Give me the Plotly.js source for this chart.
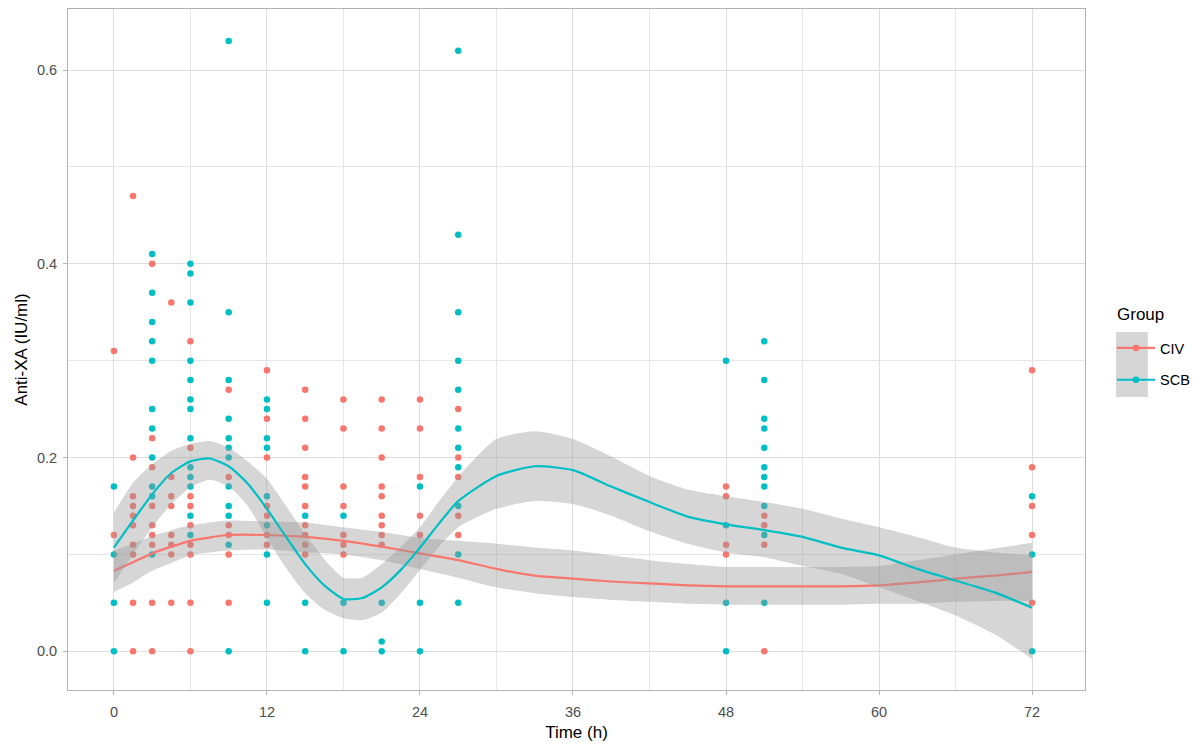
<!DOCTYPE html>
<html><head><meta charset="utf-8">
<script src="https://cdn.plot.ly/plotly-3.0.1.min.js"></script>
<style>html,body{margin:0;padding:0;background:#fff}#chart{width:1203px;height:747px}</style>
</head><body><div id="chart"></div>
<script>
// ---------- data ----------
const groupNames = ['CIV', 'SCB'];
const groupColors = ['#F8766D', '#00BFC4'];

// observed points, CIV
const civTime = [
  0, 0,
  1.5, 1.5, 1.5, 1.5, 1.5, 1.5, 1.5, 1.5, 1.5, 1.5,
  3, 3, 3, 3, 3, 3, 3, 3, 3,
  4.5, 4.5, 4.5, 4.5, 4.5, 4.5, 4.5, 4.5,
  6, 6, 6, 6, 6, 6, 6, 6, 6,
  9, 9, 9, 9, 9, 9,
  12, 12, 12, 12, 12, 12, 12,
  15, 15, 15, 15, 15, 15, 15, 15, 15, 15,
  18, 18, 18, 18, 18, 18, 18,
  21, 21, 21, 21, 21, 21, 21, 21, 21,
  24, 24, 24, 24, 24,
  27, 27, 27, 27, 27,
  48, 48, 48, 48,
  51, 51, 51, 51,
  72, 72, 72, 72, 72
];
const civValue = [
  0.31, 0.12,
  0.47, 0.20, 0.16, 0.15, 0.14, 0.13, 0.11, 0.10, 0.05, 0.00,
  0.40, 0.22, 0.19, 0.15, 0.13, 0.12, 0.11, 0.05, 0.00,
  0.36, 0.18, 0.16, 0.15, 0.12, 0.11, 0.10, 0.05,
  0.32, 0.21, 0.16, 0.15, 0.13, 0.11, 0.10, 0.05, 0.00,
  0.27, 0.18, 0.13, 0.12, 0.10, 0.05,
  0.29, 0.24, 0.20, 0.15, 0.14, 0.12, 0.11,
  0.27, 0.24, 0.21, 0.18, 0.17, 0.15, 0.13, 0.12, 0.11, 0.10,
  0.26, 0.23, 0.17, 0.15, 0.12, 0.11, 0.10,
  0.26, 0.23, 0.20, 0.17, 0.16, 0.14, 0.13, 0.12, 0.11,
  0.26, 0.23, 0.18, 0.14, 0.12,
  0.25, 0.20, 0.18, 0.14, 0.12,
  0.17, 0.16, 0.11, 0.10,
  0.14, 0.13, 0.11, 0.00,
  0.29, 0.19, 0.15, 0.12, 0.05
];

// observed points, SCB
const scbTime = [
  0, 0, 0, 0,
  3, 3, 3, 3, 3, 3, 3, 3, 3, 3, 3,
  6, 6, 6, 6, 6, 6, 6, 6, 6, 6, 6, 6, 6,
  9, 9, 9, 9, 9, 9, 9, 9, 9, 9, 9, 9,
  12, 12, 12, 12, 12, 12, 12, 12,
  15, 15, 15,
  18, 18, 18,
  21, 21, 21,
  24, 24, 24,
  27, 27, 27, 27, 27, 27, 27, 27, 27, 27, 27,
  48, 48, 48, 48,
  51, 51, 51, 51, 51, 51, 51, 51, 51, 51, 51,
  72, 72, 72
];
const scbValue = [
  0.17, 0.10, 0.05, 0.00,
  0.41, 0.37, 0.34, 0.32, 0.30, 0.25, 0.23, 0.20, 0.17, 0.16, 0.10,
  0.40, 0.39, 0.36, 0.30, 0.28, 0.26, 0.25, 0.22, 0.19, 0.18, 0.17, 0.14, 0.12,
  0.63, 0.35, 0.28, 0.24, 0.22, 0.21, 0.20, 0.17, 0.15, 0.14, 0.11, 0.00,
  0.26, 0.25, 0.22, 0.21, 0.16, 0.13, 0.10, 0.05,
  0.14, 0.05, 0.00,
  0.14, 0.05, 0.00,
  0.05, 0.01, 0.00,
  0.17, 0.05, 0.00,
  0.62, 0.43, 0.35, 0.30, 0.27, 0.23, 0.21, 0.19, 0.15, 0.10, 0.05,
  0.30, 0.13, 0.05, 0.00,
  0.32, 0.28, 0.24, 0.23, 0.21, 0.19, 0.18, 0.17, 0.15, 0.12, 0.05,
  0.16, 0.10, 0.00
];

// smoothed fit with confidence band, CIV
const civFitTime = [0, 1.5, 3, 4.5, 6, 9, 12, 15, 18, 21, 24, 27, 30, 33, 36, 39, 42, 45, 48, 51, 54, 57, 60, 63, 66, 69, 72];
const civFit  = [0.083, 0.092, 0.101, 0.108, 0.114, 0.120, 0.120, 0.118, 0.114, 0.108, 0.101, 0.094, 0.085, 0.078, 0.075, 0.072, 0.070, 0.068, 0.067, 0.067, 0.067, 0.067, 0.068, 0.071, 0.075, 0.078, 0.082];
const civHigh = [0.104, 0.111, 0.119, 0.125, 0.130, 0.135, 0.134, 0.133, 0.128, 0.123, 0.117, 0.114, 0.111, 0.107, 0.104, 0.099, 0.094, 0.090, 0.087, 0.087, 0.087, 0.087, 0.088, 0.094, 0.100, 0.106, 0.112];
const civLow  = [0.061, 0.071, 0.083, 0.091, 0.099, 0.104, 0.105, 0.102, 0.100, 0.094, 0.085, 0.076, 0.066, 0.060, 0.056, 0.053, 0.051, 0.049, 0.048, 0.048, 0.048, 0.048, 0.049, 0.049, 0.051, 0.052, 0.052];

// smoothed fit with confidence band, SCB
const scbFitTime = [0, 1.5, 3, 4.5, 6, 7.5, 9, 10.5, 12, 13.5, 15, 16.5, 18, 19.5, 21, 22.5, 24, 25.5, 27, 30, 33, 36, 39, 42, 45, 48, 51, 54, 57, 60, 63, 66, 69, 72];
const scbFit  = [0.107, 0.135, 0.162, 0.184, 0.196, 0.199, 0.191, 0.173, 0.147, 0.118, 0.090, 0.068, 0.054, 0.055, 0.066, 0.084, 0.107, 0.132, 0.155, 0.181, 0.191, 0.187, 0.170, 0.154, 0.139, 0.131, 0.125, 0.118, 0.107, 0.099, 0.085, 0.073, 0.061, 0.045];
const scbHigh = [0.143, 0.174, 0.193, 0.207, 0.214, 0.217, 0.210, 0.196, 0.178, 0.150, 0.121, 0.095, 0.076, 0.076, 0.090, 0.108, 0.128, 0.155, 0.180, 0.219, 0.227, 0.219, 0.201, 0.181, 0.167, 0.160, 0.154, 0.147, 0.137, 0.128, 0.118, 0.107, 0.102, 0.099];
const scbLow  = [0.070, 0.100, 0.128, 0.152, 0.169, 0.177, 0.170, 0.150, 0.117, 0.086, 0.060, 0.043, 0.034, 0.032, 0.040, 0.060, 0.084, 0.108, 0.128, 0.147, 0.155, 0.152, 0.140, 0.124, 0.111, 0.102, 0.097, 0.088, 0.080, 0.066, 0.052, 0.037, 0.018, -0.008];

const xTickVals = [0, 12, 24, 36, 48, 60, 72];
const yTickVals = [0.0, 0.2, 0.4, 0.6];
const legendTitle = 'Group';

// ---------- figure ----------
const FONT = 'Arial, "Liberation Sans", sans-serif';
const ribbonFill = 'rgba(153,153,153,0.4)';
const SPLINE = {shape: 'spline', smoothing: 0.6};

function pointsTrace(t, v, i) {
  return {type: 'scatter', mode: 'markers', x: t, y: v, showlegend: false, hoverinfo: 'skip',
    marker: {color: groupColors[i], size: 6.5, line: {width: 0}}};
}
function ribbonTraces(t, hi, lo) {
  return [
    {type: 'scatter', mode: 'lines', x: t, y: lo, showlegend: false, hoverinfo: 'skip',
     line: Object.assign({width: 0, color: 'rgba(0,0,0,0)'}, SPLINE)},
    {type: 'scatter', mode: 'lines', x: t, y: hi, fill: 'tonexty', fillcolor: ribbonFill,
     showlegend: false, hoverinfo: 'skip',
     line: Object.assign({width: 0, color: 'rgba(0,0,0,0)'}, SPLINE)}
  ];
}
function fitTrace(t, f, i) {
  return {type: 'scatter', mode: 'lines', x: t, y: f, showlegend: false, hoverinfo: 'skip',
    line: Object.assign({color: groupColors[i], width: 2.2}, SPLINE)};
}
function legendTrace(i) {
  return {type: 'scatter', mode: 'lines+markers', x: [null], y: [null], name: groupNames[i],
    legendgroup: groupNames[i], showlegend: true,
    line: {color: groupColors[i], width: 2.2}, marker: {color: groupColors[i], size: 6.5}};
}

const data = [
  pointsTrace(civTime, civValue, 0),
  pointsTrace(scbTime, scbValue, 1),
  ...ribbonTraces(civFitTime, civHigh, civLow),
  fitTrace(civFitTime, civFit, 0),
  ...ribbonTraces(scbFitTime, scbHigh, scbLow),
  fitTrace(scbFitTime, scbFit, 1),
  legendTrace(0),
  legendTrace(1)
];

const L = 68, R = 1086, T = 9, B = 690;
const px2paperX = x => (x - L) / (R - L);
const px2paperY = y => (B - y) / (B - T);

const layout = {
  width: 1203, height: 747,
  margin: {l: L, r: 1203 - R, t: T, b: 747 - B, pad: 0},
  paper_bgcolor: '#ffffff', plot_bgcolor: '#ffffff',
  font: {family: FONT, color: '#000000'},
  xaxis: {
    range: [-3.6, 76.15], tickvals: xTickVals, ticktext: xTickVals.map(String),
    showgrid: true, gridcolor: '#DEDEDE', gridwidth: 1,
    minor: {dtick: 6, tick0: 0, showgrid: true, gridcolor: '#E6E6E6', gridwidth: 1},
    zeroline: false, showline: true, mirror: true, linecolor: '#B3B3B3', linewidth: 1,
    ticks: 'outside', ticklen: 4, tickcolor: '#B3B3B3', tickwidth: 1,
    ticklabelstandoff: 5,
    tickfont: {size: 14.5, color: '#4D4D4D', family: FONT},
    title: {text: 'Time (h)', font: {size: 17, color: '#000000', family: FONT}, standoff: 6},
    automargin: false
  },
  yaxis: {
    range: [-0.040, 0.663], tickvals: yTickVals, ticktext: yTickVals.map(v => v.toFixed(1)),
    showgrid: true, gridcolor: '#DEDEDE', gridwidth: 1,
    minor: {dtick: 0.1, tick0: 0, showgrid: true, gridcolor: '#E6E6E6', gridwidth: 1},
    zeroline: false, showline: true, mirror: true, linecolor: '#B3B3B3', linewidth: 1,
    ticks: 'outside', ticklen: 4, tickcolor: '#B3B3B3', tickwidth: 1,
    ticklabelstandoff: 3,
    tickfont: {size: 14.5, color: '#4D4D4D', family: FONT},
    title: {text: 'Anti-XA (IU/ml)', font: {size: 17, color: '#000000', family: FONT}, standoff: 4},
    automargin: false
  },
  showlegend: true,
  legend: {
    x: px2paperX(1112), xanchor: 'left', y: px2paperY(332), yanchor: 'top',
    bgcolor: 'rgba(0,0,0,0)', borderwidth: 0,
    font: {size: 14.5, color: '#000000', family: FONT},
    tracegroupgap: 10, itemwidth: 38
  },
  annotations: [
    {text: legendTitle, xref: 'paper', yref: 'paper', x: px2paperX(1116), y: px2paperY(314),
     xanchor: 'left', yanchor: 'middle', showarrow: false,
     font: {size: 17, color: '#000000', family: FONT}}
  ],
  shapes: [
    {type: 'rect', xref: 'paper', yref: 'paper', layer: 'below',
     x0: px2paperX(1117), x1: px2paperX(1149), y0: px2paperY(397), y1: px2paperY(332),
     fillcolor: ribbonFill, line: {width: 0}}
  ]
};

Plotly.newPlot('chart', data, layout, {displayModeBar: false, staticPlot: true});
</script>
</body></html>
